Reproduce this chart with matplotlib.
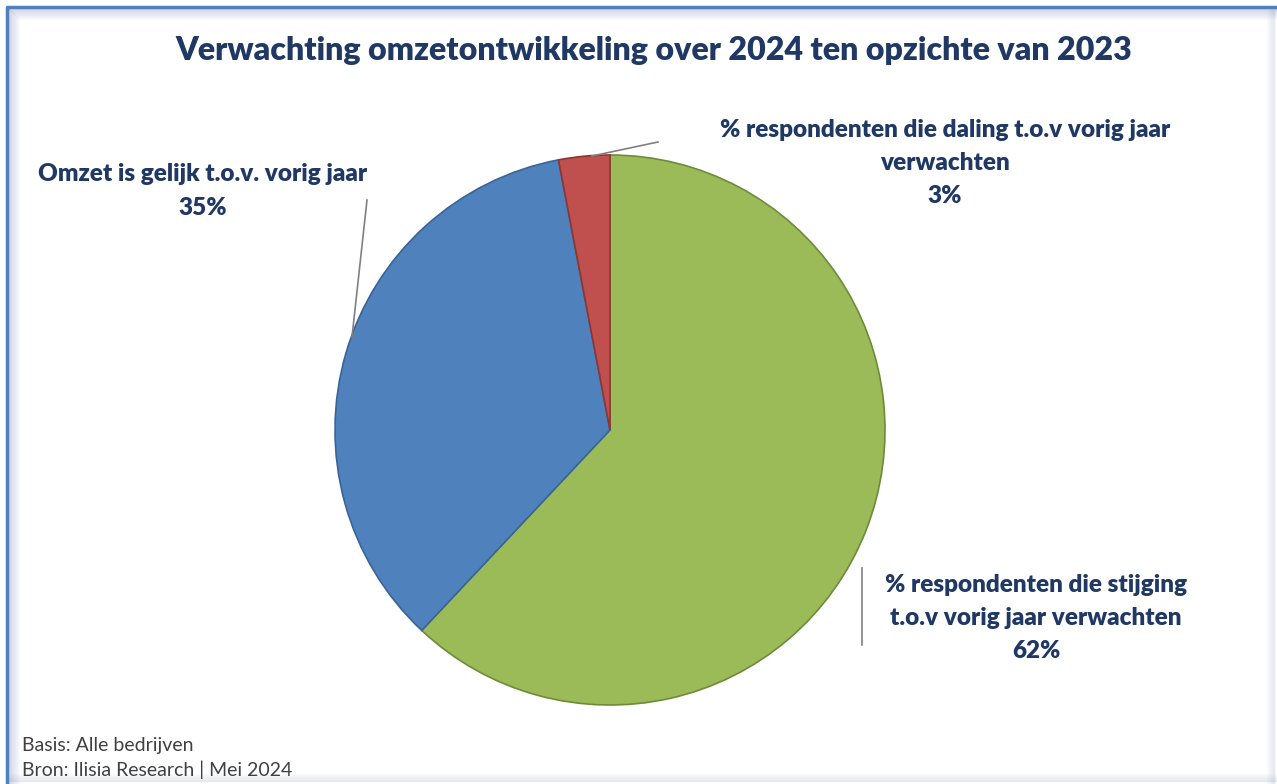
import numpy as np
import matplotlib.pyplot as plt

title = "Verwachting omzetontwikkeling over 2024 ten opzichte van 2023"
labels = ["% respondenten die stijging\nt.o.v vorig jaar verwachten\n62%",
          "Omzet is gelijk t.o.v. vorig jaar\n35%",
          "% respondenten die daling t.o.v vorig jaar\nverwachten\n3%"]
values = [62, 35, 3]
colors = ["#9BBB59", "#4F81BD", "#C0504D"]
edges = ["#6E8A3A", "#3A6496", "#8E3532"]
footer = ["Basis: Alle bedrijven", "Bron: Ilisia Research | Mei 2024"]

W, H = 1277, 784
plt.rcParams['font.family'] = ['Lato', 'DejaVu Sans']
fig = plt.figure(figsize=(W / 100, H / 100), dpi=100)
ax = fig.add_axes([0, 0, 1, 1])
ax.set_xlim(0, W)
ax.set_ylim(0, H)
ax.axis('off')

# frame with soft inner shadow
for i in range(12):
    a = 0.22 * (1 - i / 12)
    ax.plot([8 + i, 8 + i], [0, H - 8 - i], color="#6070A0", alpha=a, lw=1)
    ax.plot([8 + i, W], [H - 8 - i, H - 8 - i], color="#6070A0", alpha=a, lw=1)
for i in range(8):
    a = 0.12 * (1 - i / 8)
    ax.plot([8, W], [3 + i, 3 + i], color="#6070A0", alpha=a, lw=1)
    ax.plot([W - 3 - i, W - 3 - i], [0, H - 8], color="#6070A0", alpha=a, lw=1)
ax.plot([7, 7, W], [0, H - 7, H - 7], color="#4F81BD", lw=2.5, solid_capstyle='butt')

cx, cy, r = 610, H - 430, 275
wedges, _ = ax.pie(values, colors=colors, startangle=90, counterclock=False,
                   center=(cx, cy), radius=r, frame=True,
                   wedgeprops=dict(linewidth=1.2))
for w, e in zip(wedges, edges):
    w.set_edgecolor(e)
ax.set_xlim(0, W)
ax.set_ylim(0, H)
ax.set_aspect('equal')
ax.axis('off')

navy = "#1F3864"
ax.text(654, H - 50, title, ha='center', va='center', fontsize=23.1,
        fontweight='heavy', color=navy)

lab_kw = dict(ha='center', va='center', fontsize=17.5, fontweight='heavy',
              color=navy, linespacing=1.62)
ax.text(1036, H - 618, labels[0], **lab_kw)
ax.text(203, H - 191, labels[1], **lab_kw)
ax.text(945, H - 163, labels[2], **lab_kw)

# leader lines
ax.plot([862, 862], [H - 568, H - 645], color="#808080", lw=1.2)
ax.plot([367, 352], [H - 200, H - 337], color="#808080", lw=1.2)
ax.plot([592, 658], [H - 156, H - 142], color="#808080", lw=1.2)

ax.text(22, H - 745, footer[0], ha='left', va='center', fontsize=14, color="#404040")
ax.text(22, H - 770, footer[1], ha='left', va='center', fontsize=14, color="#404040")

fig.savefig("out.png", dpi=100)
